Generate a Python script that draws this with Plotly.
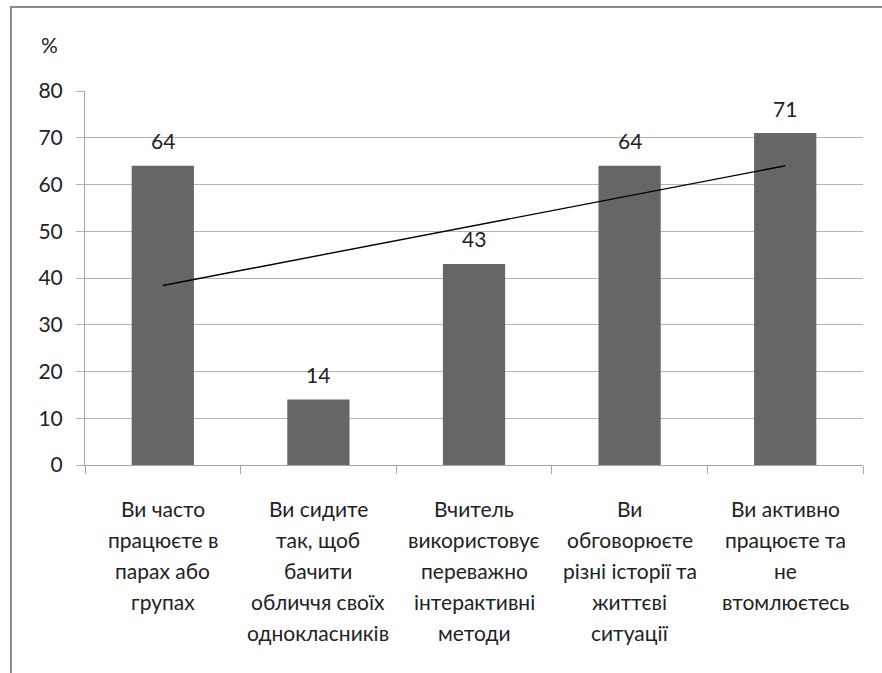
import numpy as np
import plotly.graph_objects as go

# Survey statements (x categories), split into display lines
label_lines = [
    ["Ви часто", "працюєте в", "парах або", "групах"],
    ["Ви сидите", "так, щоб", "бачити", "обличчя своїх", "однокласників"],
    ["Вчитель", "використовує", "переважно", "інтерактивні", "методи"],
    ["Ви", "обговорюєте", "різні історії та", "життєві", "ситуації"],
    ["Ви активно", "працюєте та", "не", "втомлюєтесь"],
]
categories = [" ".join(l) for l in label_lines]
values = [64, 14, 43, 64, 71]
y_ticks = [0, 10, 20, 30, 40, 50, 60, 70, 80]

FONT = "Lato"
FSIZE = 21
TEXT = "#222222"

# Linear trend over the category index
idx = np.arange(1, len(values) + 1)
slope, intercept = np.polyfit(idx, values, 1)
trend = slope * idx + intercept

fig = go.Figure()
fig.add_trace(go.Bar(
    x=categories, y=values,
    marker=dict(color="#666666", line=dict(width=0)),
    width=0.4,
    showlegend=False,
))
fig.add_trace(go.Scatter(
    x=categories, y=trend, mode="lines",
    line=dict(color="#000000", width=1.4),
    showlegend=False,
))

annotations = []
# value labels above each bar
for cat, v in zip(categories, values):
    annotations.append(dict(
        x=cat, xref="x", y=v, yref="y",
        text=str(v), showarrow=False,
        xanchor="center", yanchor="middle", yshift=25,
        font=dict(family=FONT, size=FSIZE, color=TEXT),
    ))
# multi-line category labels under the axis
for cat, lines in zip(categories, label_lines):
    for i, line in enumerate(lines):
        annotations.append(dict(
            x=cat, xref="x", y=0, yref="paper",
            text=line, showarrow=False,
            yanchor="middle", xanchor="center",
            yshift=-(43 + 31 * i),
            font=dict(family=FONT, size=FSIZE, color=TEXT),
        ))
annotations.append(dict(
    x=-0.045, xref="paper", y=1.125, yref="paper",
    text="%", showarrow=False, xanchor="center", yanchor="middle",
    font=dict(family=FONT, size=FSIZE, color=TEXT),
))

fig.update_layout(
    width=882, height=673,
    margin=dict(l=85, r=19, t=91, b=208),
    paper_bgcolor="white", plot_bgcolor="white",
    bargap=0.6,
    annotations=annotations,
    shapes=[dict(
        type="rect", xref="paper", yref="paper",
        x0=(11 - 85) / 778, x1=(900 - 85) / 778,
        y0=-(700 - 465) / 374, y1=(465 - 7) / 374,
        line=dict(color="#8a8a8a", width=2), fillcolor="rgba(0,0,0,0)",
        layer="below",
    )],
    xaxis=dict(
        showticklabels=False,
        showgrid=False,
        showline=True, linecolor="#a6a6a6", linewidth=1,
        ticks="outside", ticklen=8, tickcolor="#a6a6a6",
        tickson="boundaries",
    ),
    yaxis=dict(
        range=[0, 80],
        tickvals=y_ticks,
        showgrid=True, gridcolor="#b3b3b3", gridwidth=1,
        showline=True, linecolor="#a6a6a6", linewidth=1,
        ticks="outside", ticklen=8, tickcolor="#b3b3b3",
        ticklabelstandoff=9,
        tickfont=dict(family=FONT, size=FSIZE, color=TEXT),
        zeroline=False,
    ),
)

fig.write_html("out.html")
